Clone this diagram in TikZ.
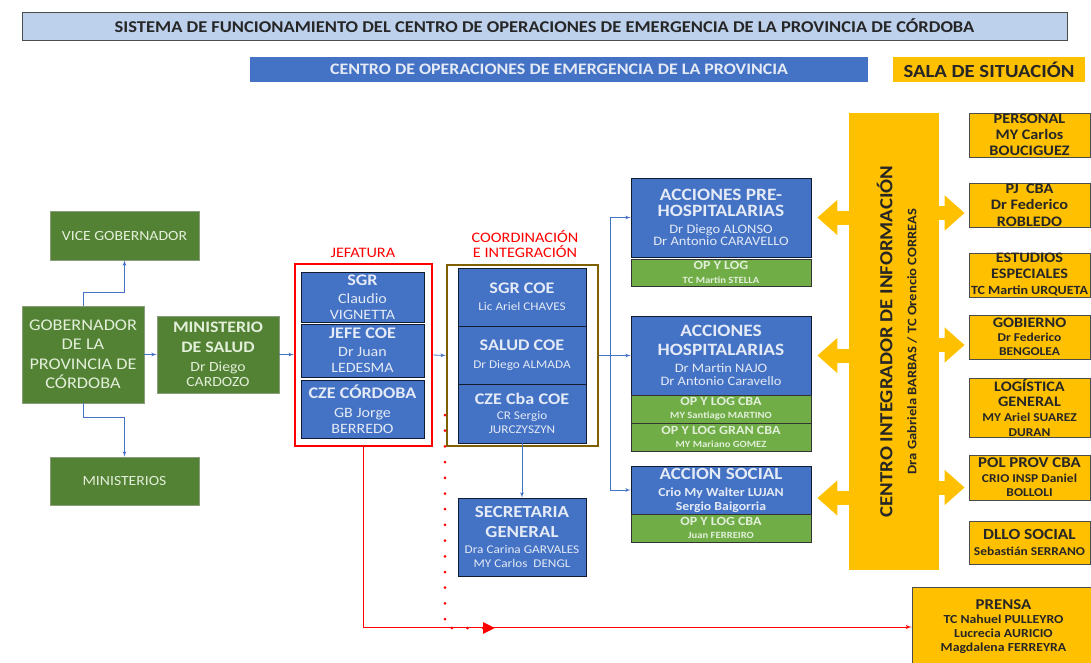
\documentclass[tikz,border=0pt]{standalone}
\usepackage{fontspec}
\setmainfont{Carlito}[FakeStretch=1.12]
\usepackage{tikz}
\usetikzlibrary{arrows,arrows.meta,calc}

\definecolor{cblue}{HTML}{4472C4}
\definecolor{cgreen}{HTML}{548235}
\definecolor{clgreen}{HTML}{70AD47}
\definecolor{corange}{HTML}{FFC000}
\definecolor{cbrown}{HTML}{7F6000}
\definecolor{cred}{HTML}{FF0000}
\definecolor{ctitle}{HTML}{BDD0EC}
\definecolor{ctxtb}{HTML}{E4EAF6}
\definecolor{ctxtg}{HTML}{E2EFD9}
\definecolor{ctxto}{HTML}{262626}
\newcommand{\fsz}[2]{\fontsize{#1}{#2}\selectfont}

\begin{document}
\begin{tikzpicture}
			[x=1pt,y=-1pt,every node/.style={inner sep=0pt,align=center},
			box/.style={draw=black!80,line width=0.8pt},
			bluebox/.style={box,fill=cblue,text=ctxtb,draw=black!75!cblue},
			greenbox/.style={box,fill=cgreen,text=ctxtg,draw=cgreen!70!black!60},
			opbox/.style={box,fill=clgreen,text=ctxtg},
			orbox/.style={box,fill=corange,text=ctxto,draw=black!70},
			edge/.style={->,> = latex',draw=cblue,line width=0.8pt},
			redline/.style={draw=cred,line width=1pt},
			oarrow/.style={draw=corange,line width=14pt,-{Triangle[length=20pt,width=34pt]}}]
			\useasboundingbox (0,0) rectangle (1091,662);
			
			% cabecera
			\node[box,fill=ctitle,draw=black!70,text=ctxto,minimum width=1045,minimum height=28] (title) at (544.5,26) {\fsz{16.5}{18}\bfseries SISTEMA DE FUNCIONAMIENTO DEL CENTRO DE OPERACIONES DE EMERGENCIA DE LA PROVINCIA DE CÓRDOBA};
			\node[bluebox,draw=none,minimum width=618,minimum height=25] (coe) at (559,69.5) {\fsz{16}{18}\bfseries CENTRO DE OPERACIONES DE EMERGENCIA DE LA PROVINCIA};
			\node[orbox,draw=none,minimum width=192,minimum height=25] (sala) at (989,69.5) {\fsz{18.5}{20}\bfseries SALA DE SITUACIÓN};
			
			% gobierno
			\node[greenbox,font=\fsz{14}{16},minimum width=149,minimum height=49] (vice) at (124.5,235.5) {VICE GOBERNADOR};
			\node[greenbox,font=\fsz{16.3}{19.5},minimum width=122,minimum height=97] (gob) at (83,354.5) {GOBERNADOR\\DE LA\\PROVINCIA DE\\CÓRDOBA};
			\node[greenbox,font=\fsz{14}{15},minimum width=122,minimum height=77] (msal) at (218,354.5) {{\fsz{16}{18}\bfseries MINISTERIO}\\[5pt]{\fsz{16}{18}\bfseries DE SALUD}\\[4pt]Dr Diego\\CARDOZO};
			\node[greenbox,font=\fsz{14}{16},minimum width=149,minimum height=48] (mins) at (124.5,481) {MINISTERIOS};
			
			\draw[edge] (gob.north) -- ++(0,-13) -| (vice.south);
			\draw[edge] (gob.south) -- ++(0,14) -| (mins.north);
			\draw[edge] (gob) -- (msal);
			
			% jefatura
			\node[draw=cred,line width=2.5pt,minimum width=137,minimum height=182] (jefatura) at (363.5,355) {};
			\node[text=cred,font=\fsz{14.5}{16}] (jefl) at (363,253) {JEFATURA};
			\node[bluebox,font=\fsz{14.3}{16},minimum width=123,minimum height=50] (sgr) at (362.5,297) {{\fsz{16.2}{18}\bfseries SGR}\\[2pt]Claudio\\VIGNETTA};
			\node[bluebox,font=\fsz{14.3}{16},minimum width=123,minimum height=53] (jefe) at (362.5,350.5) {{\fsz{16.2}{18}\bfseries JEFE COE}\\[2pt]Dr Juan\\LEDESMA};
			\node[bluebox,font=\fsz{14.3}{16},minimum width=123,minimum height=58] (cze) at (362.5,409) {{\fsz{16.2}{18}\bfseries CZE CÓRDOBA}\\[3pt]GB Jorge\\BERREDO};
			
			% coordinacion
			\node[draw=cbrown,line width=2.5pt,minimum width=151,minimum height=181] (coord) at (522.5,355.5) {};
			\node[text=cred,font=\fsz{14.5}{15}] (coordl) at (525,244) {COORDINACIÓN\\E INTEGRACIÓN};
			\node[bluebox,font=\fsz{11.8}{14},minimum width=128,minimum height=58] (sgrcoe) at (522,297) {{\fsz{16.2}{18}\bfseries SGR COE}\\[3pt]Lic Ariel CHAVES};
			\node[bluebox,font=\fsz{11.8}{14},minimum width=128,minimum height=58] (saludcoe) at (522,355) {{\fsz{16.2}{18}\bfseries SALUD COE}\\[4pt]Dr Diego ALMADA};
			\node[bluebox,font=\fsz{11.8}{14},minimum width=128,minimum height=59] (czecoe) at (522,413.5) {{\fsz{16.2}{18}\bfseries CZE Cba COE}\\[1pt]CR Sergio\\JURCZYSZYN};
			\node[bluebox,font=\fsz{11.8}{14},minimum width=128,minimum height=78] (secgral) at (522,537) {{\fsz{16.9}{19}\bfseries SECRETARIA}\\[6pt]{\fsz{16.9}{19}\bfseries GENERAL}\\[2pt]Dra Carina GARVALES\\MY Carlos~~DENGL};
			
			\draw[edge] (msal.east) -- (msal.east -| jefatura.west);
			\draw[edge] (jefatura.east) -- (coord.west);
			\draw[edge] (czecoe.south) -- (secgral.north);
			
			% acciones
			\node[bluebox,font=\fsz{12.9}{12.5},minimum width=180,minimum height=79] (prehosp) at (721,217.5) {{\fsz{17.3}{19}\bfseries ACCIONES PRE-}\\[4pt]{\fsz{17.3}{19}\bfseries HOSPITALARIAS}\\[4pt]Dr Diego ALONSO\\Dr Antonio CARAVELLO};
			\node[opbox,font=\fsz{9.5}{14}\bfseries,minimum width=180,minimum height=27] (preop) at (721,272.5) {{\fsz{12.5}{14}\bfseries OP Y LOG}\\TC Martin STELLA};
			\node[bluebox,font=\fsz{12.9}{12.5},minimum width=180,minimum height=79] (hosp) at (721,355.5) {{\fsz{17.3}{19}\bfseries ACCIONES}\\[6pt]{\fsz{17.3}{19}\bfseries HOSPITALARIAS}\\[5pt]Dr Martin NAJO\\Dr Antonio Caravello};
			\node[opbox,font=\fsz{9.5}{13}\bfseries,minimum width=180,minimum height=28] (hospop1) at (721,409) {{\fsz{12.5}{14}\bfseries OP Y LOG CBA}\\MY Santiago MARTINO};
			\node[opbox,font=\fsz{9.5}{13}\bfseries,minimum width=180,minimum height=28] (hospop2) at (721,437) {{\fsz{12.5}{14}\bfseries OP Y LOG GRAN CBA}\\MY Mariano GOMEZ};
			\node[bluebox,font=\fsz{12.3}{14}\bfseries,minimum width=180,minimum height=48] (social) at (721,490) {{\fsz{17}{18}\bfseries ACCION SOCIAL}\\[3pt]Crio My Walter LUJAN\\Sergio Baigorria};
			\node[opbox,font=\fsz{9.5}{13}\bfseries,minimum width=180,minimum height=28] (socialop) at (721,528) {{\fsz{12.5}{14}\bfseries OP Y LOG CBA}\\Juan FERREIRO};
			
			\coordinate (split) at (610,355);
			\draw[edge,-] (coord.east |- split) -- (split);
			\foreach \to in {prehosp,hosp,social}
			\draw[edge] (split) |- (\to.west);
			
			% centro integrador
			\node[orbox,draw=none,minimum width=90,minimum height=457] (cii) at (894,341.5) {};
			\node[rotate=90,text=ctxto,font=\fsz{13}{24}] (ciil) at ($(cii)+(3,0)$) {{\fsz{18.5}{20}\bfseries CENTRO INTEGRADOR DE INFORMACIÓN}\\{\fsz{13}{14}\bfseries Dra Gabriela BARBAS / TC Orencio CORREAS}};
			
			% sala de situacion
			\node[orbox,font=\fsz{14.5}{16}\bfseries,minimum width=121,minimum height=44] (personal) at (1029.5,135) {PERSONAL\\MY Carlos\\BOUCIGUEZ};
			\node[orbox,font=\fsz{14.5}{16.5}\bfseries,minimum width=121,minimum height=44] (pj) at (1029.5,205) {PJ~~CBA\\Dr Federico\\ROBLEDO};
			\node[orbox,font=\fsz{12.5}{16}\bfseries,minimum width=121,minimum height=44] (estudios) at (1029.5,275) {{\fsz{14.5}{16}\bfseries ESTUDIOS}\\{\fsz{14.5}{16}\bfseries ESPECIALES}\\TC Martin URQUETA};
			\node[orbox,font=\fsz{12}{14}\bfseries,minimum width=121,minimum height=44] (gobierno) at (1029.5,337) {{\fsz{14.5}{16}\bfseries GOBIERNO}\\Dr Federico\\BENGOLEA};
			\node[orbox,font=\fsz{12}{15}\bfseries,minimum width=121,minimum height=59] (logistica) at (1029.5,407.5) {{\fsz{14.5}{16}\bfseries LOGÍSTICA}\\{\fsz{14.5}{16}\bfseries GENERAL}\\MY Ariel SUAREZ\\DURAN};
			\node[orbox,font=\fsz{12}{14.5}\bfseries,minimum width=121,minimum height=45] (polprov) at (1029.5,477.5) {{\fsz{15}{16}\bfseries POL PROV CBA}\\CRIO INSP Daniel\\BOLLOLI};
			\node[orbox,font=\fsz{12}{16}\bfseries,minimum width=121,minimum height=43] (dllo) at (1029.5,542.5) {{\fsz{15.5}{17}\bfseries DLLO SOCIAL}\\Sebastián SERRANO};
			\node[orbox,font=\fsz{12.3}{14}\bfseries,minimum width=183,minimum height=80] (prensa) at (1003.5,627) {{\fsz{15}{16}\bfseries PRENSA}\\TC Nahuel PULLEYRO\\Lucrecia AURICIO\\Magdalena FERREYRA};
			
			% flechas naranjas
			\draw[oarrow,shorten >=6pt] (cii.west |- prehosp) -- (prehosp.east);
			\draw[oarrow,shorten >=6pt] (cii.west |- hosp) -- (hosp.east);
			\draw[oarrow,shorten >=6pt] ($(cii.west |- social)+(0,8)$) -- ($(social.east)+(0,8)$);
			\foreach \to/\dy in {pj/8,gobierno/8,polprov/10}
			\draw[oarrow,shorten >=4pt] ($(cii.east |- \to)+(0,\dy)$) -- ($(\to.west)+(0,\dy)$);
			
			% prensa
			\draw[redline,->,> = latex'] (jefatura.south -| 363,0) |- (prensa.west);
			\coordinate (dtop) at (445,415);
			\coordinate (dend) at (495,628);
			\draw[draw=cred,line width=3pt,line cap=round,dash pattern=on 0pt off 15.7pt,-{Triangle[length=12pt,width=11pt,fill=cred,line cap=butt]}] (dtop) |- (dend);
\end{tikzpicture}
\end{document}
